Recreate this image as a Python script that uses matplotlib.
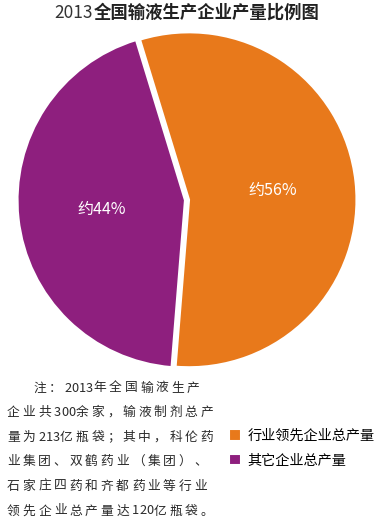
import matplotlib
matplotlib.use("Agg")
import matplotlib.pyplot as plt

plt.rcParams['font.family'] = ['Noto Sans CJK SC', 'DejaVu Sans']

title_num = "2013"
title_txt = "全国输液生产企业产量比例图"
categories = ["行业领先企业总产量", "其它企业总产量"]
values = [56, 44]
colors = ["#E8791B", "#8E1F7E"]
note_lines = [
    "注：2013年全国输液生产",
    "企业共300余家，输液制剂总产",
    "量为213亿瓶袋；其中，科伦药",
    "业集团、双鹤药业（集团）、",
    "石家庄四药和齐都药业等行业",
    "领先企业总产量达120亿瓶袋。",
]

W, H = 376, 520
fig = plt.figure(figsize=(W / 100, H / 100), dpi=100)

# pie axes
ax = fig.add_axes([17 / W, 1 - 370 / H, 340 / W, 340 / H])
wedges, texts, autotexts = ax.pie(
    values, colors=colors, startangle=107, counterclock=False,
    explode=[0.012, 0.012], radius=0.985,
    autopct=lambda p: f"约{p:.0f}%", pctdistance=0.5,
    wedgeprops=dict(edgecolor="white", linewidth=1.5),
    textprops=dict(color="white", fontsize=11.5),
)
ax.set_xlim(-1, 1)
ax.set_ylim(-1, 1)
ax.set_aspect("equal")
ax.axis("off")

# title: light digits + bold Chinese
ty = 1 - 13 / H
fig.text(93 / W, ty, title_num, ha="right", va="center",
         fontsize=12.5, color="#333333")
fig.text(94 / W, ty, title_txt, ha="left", va="center",
         fontsize=12.5, fontweight="bold", color="#222222")

# note, set on a spaced grid like the original typesetting
fw_adv, hw_adv = 15.6, 7.3
y0, dy = 388, 24.6
for i, line in enumerate(note_lines):
    x = 33 if i == 0 else 7
    y = 1 - (y0 + i * dy) / H
    for ch in line:
        fig.text(x / W, y, ch, ha="left", va="center",
                 fontsize=9.2, color="#2a2a2a")
        x += hw_adv if ord(ch) < 0x2000 else fw_adv

fig.legend(wedges, categories, loc="upper left",
           bbox_to_anchor=(229 / W, 1 - 429 / H), frameon=False,
           handlelength=0.85, handleheight=0.85, handletextpad=0.45,
           labelspacing=0.75, fontsize=10.2, borderaxespad=0, borderpad=0)

fig.savefig("out.png", dpi=100, facecolor="white")
